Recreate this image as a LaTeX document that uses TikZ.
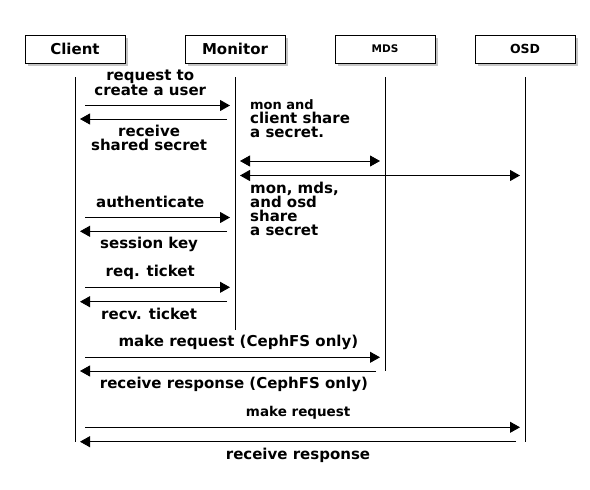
\documentclass[tikz,border=0pt]{standalone}
\usepackage{fontspec}
\setmainfont{DejaVu Sans}
\usepackage{xcolor}
\definecolor{seqDark}{RGB}{0, 0, 0}
\usepackage{tikz}
\usetikzlibrary{
    arrows.meta,
    positioning,
    shadows
}

\begin{document}
\begin{tikzpicture}[
    x=1pt, y=-1pt,
    actorBox/.style={
        rectangle, draw=seqDark, line width=1pt,
        fill=white, text=seqDark,
        minimum width=100pt, minimum height=28pt, inner sep=0pt,
        font=\bfseries\fontsize{15}{15}\selectfont,
        drop shadow={opacity=0.45, shadow xshift=2.5pt, shadow yshift=-2.5pt}
    },
    lifeLine/.style={
        line width=0.9pt, draw=seqDark
    },
    msgArrow/.style={
        -{Triangle[length=10pt, width=11pt]}, line width=0.9pt, draw=seqDark
    },
    biMsgArrow/.style={
        {Triangle[length=10pt, width=11pt]}-{Triangle[length=10pt, width=11pt]},
        line width=0.9pt, draw=seqDark
    },
    msgLabel/.style={
        font=\bfseries\fontsize{15}{13.5}\selectfont, text=seqDark,
        align=center, inner sep=1pt, text height=11pt, text depth=3pt
    },
    msgAbove/.style={msgLabel, above=6pt},
    msgBelow/.style={msgLabel, below=5pt},
    noteLabel/.style={
        font=\bfseries\fontsize{15}{14}\selectfont, text=seqDark,
        align=left, anchor=north west, inner sep=1pt
    }
]
    \useasboundingbox (0,0) rectangle (590,490);

    % Actors
    \node[actorBox] (client) at (75,49) {Client};
    \node[actorBox] (monitor) at (235,49) {Monitor};
    \node[actorBox, font=\bfseries\fontsize{10.5}{10.5}\selectfont] (mds) at (385,49) {MDS};
    \node[actorBox, font=\bfseries\fontsize{12.5}{12.5}\selectfont] (osd) at (525,49) {OSD};

    % Lifelines
    \coordinate (clientTop) at (75,77);
    \coordinate (clientEnd) at (75,442);
    \coordinate (monitorTop) at (235,77);
    \coordinate (monitorEnd) at (235,330);
    \coordinate (mdsTop) at (385,77);
    \coordinate (mdsEnd) at (385,371);
    \coordinate (osdTop) at (525,77);
    \coordinate (osdEnd) at (525,442);

    \draw[lifeLine] (clientTop) -- (clientEnd);
    \draw[lifeLine] (monitorTop) -- (monitorEnd);
    \draw[lifeLine] (mdsTop) -- (mdsEnd);
    \draw[lifeLine] (osdTop) -- (osdEnd);

    % Client <-> Monitor: new user
    \coordinate (createFrom) at (85,105.5);
    \coordinate (createTo) at (230,105.5);
    \coordinate (secretFrom) at (227,119);
    \coordinate (secretTo) at (80,119);
    \draw[msgArrow] (createFrom) -- node[msgAbove, pos=0.45] {request to\\create a user} (createTo);
    \draw[msgArrow] (secretFrom) -- node[msgBelow, pos=0.53, text height=25pt] {receive\\shared secret} (secretTo);

    % Monitor <-> MDS / OSD
    \coordinate (monMdsA) at (240,161);
    \coordinate (monMdsB) at (380,161);
    \coordinate (monOsdA) at (240,175.5);
    \coordinate (monOsdB) at (520,175.5);
    \draw[biMsgArrow] (monMdsA) -- (monMdsB);
    \draw[biMsgArrow] (monOsdA) -- (monOsdB);

    \node[noteLabel] (shareNote) at (249,98) {{\fontsize{13}{14}\selectfont mon and}\\client share\\a secret.};
    \node[noteLabel] (osdNote) at (249,181) {mon, mds,\\and osd\\share\\a secret};

    % Client <-> Monitor: session
    \coordinate (authFrom) at (85,217.5);
    \coordinate (authTo) at (230,217.5);
    \coordinate (keyFrom) at (227,231.3);
    \coordinate (keyTo) at (80,231.3);
    \draw[msgArrow] (authFrom) -- node[msgAbove, pos=0.45] {authenticate} (authTo);
    \draw[msgArrow] (keyFrom) -- node[msgBelow, pos=0.53] {session key} (keyTo);

    % Client <-> Monitor: ticket
    \coordinate (ticketFrom) at (85,287.3);
    \coordinate (ticketTo) at (230,287.3);
    \coordinate (recvFrom) at (227,301.7);
    \coordinate (recvTo) at (80,301.7);
    \draw[msgArrow] (ticketFrom) -- node[msgAbove, pos=0.45] {req. ticket} (ticketTo);
    \draw[msgArrow] (recvFrom) -- node[msgBelow, pos=0.53] {recv. ticket} (recvTo);

    % Client <-> MDS
    \coordinate (cephReqFrom) at (85,357.3);
    \coordinate (cephReqTo) at (380,357.3);
    \coordinate (cephRespFrom) at (376,371);
    \coordinate (cephRespTo) at (80,371);
    \draw[msgArrow] (cephReqFrom) -- node[msgAbove, pos=0.52] {make request (CephFS only)} (cephReqTo);
    \draw[msgArrow] (cephRespFrom) -- node[msgBelow, pos=0.48] {receive response (CephFS only)} (cephRespTo);

    % Client <-> OSD
    \coordinate (osdReqFrom) at (85,427.3);
    \coordinate (osdReqTo) at (520,427.3);
    \coordinate (osdRespFrom) at (516,441.7);
    \coordinate (osdRespTo) at (80,441.7);
    \draw[msgArrow] (osdReqFrom) -- node[msgAbove, pos=0.49, font=\bfseries\fontsize{13.5}{13.5}\selectfont] {make request} (osdReqTo);
    \draw[msgArrow] (osdRespFrom) -- node[msgBelow, pos=0.5] {receive response} (osdRespTo);

\end{tikzpicture}
\end{document}
